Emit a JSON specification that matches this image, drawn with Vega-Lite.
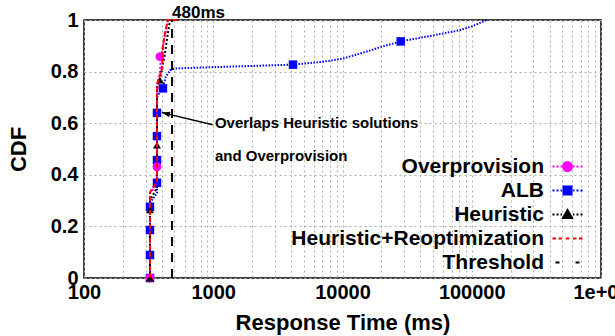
{
  "$schema": "https://vega.github.io/schema/vega-lite/v6.json",
  "width": 517,
  "height": 258,
  "autosize": {"type": "none"},
  "padding": {"left": 84, "top": 20, "right": 14, "bottom": 58},
  "background": "white",
  "config": {
    "view": {"stroke": "black", "strokeWidth": 1.5},
    "font": "Liberation Sans"
  },
  "datasets": {
    "lines": [
      {"series": "Overprovision", "x": 324, "y": 0},
      {"series": "Overprovision", "x": 324, "y": 0.33},
      {"series": "Overprovision", "x": 367, "y": 0.36},
      {"series": "Overprovision", "x": 367, "y": 0.72},
      {"series": "Overprovision", "x": 387, "y": 0.8},
      {"series": "Overprovision", "x": 395, "y": 0.86},
      {"series": "Overprovision", "x": 420, "y": 0.93},
      {"series": "Overprovision", "x": 446, "y": 1.0},
      {"series": "ALB", "x": 324, "y": 0},
      {"series": "ALB", "x": 324, "y": 0.29},
      {"series": "ALB", "x": 367, "y": 0.33},
      {"series": "ALB", "x": 367, "y": 0.7},
      {"series": "ALB", "x": 408, "y": 0.74},
      {"series": "ALB", "x": 430, "y": 0.78},
      {"series": "ALB", "x": 463, "y": 0.805},
      {"series": "ALB", "x": 500, "y": 0.812},
      {"series": "ALB", "x": 1000, "y": 0.817},
      {"series": "ALB", "x": 2000, "y": 0.822},
      {"series": "ALB", "x": 4140, "y": 0.827},
      {"series": "ALB", "x": 7000, "y": 0.838},
      {"series": "ALB", "x": 10000, "y": 0.85},
      {"series": "ALB", "x": 15000, "y": 0.876},
      {"series": "ALB", "x": 20000, "y": 0.896},
      {"series": "ALB", "x": 28200, "y": 0.917},
      {"series": "ALB", "x": 50000, "y": 0.94},
      {"series": "ALB", "x": 80000, "y": 0.96},
      {"series": "ALB", "x": 100000, "y": 0.975},
      {"series": "ALB", "x": 130500, "y": 1.0},
      {"series": "Heuristic", "x": 324, "y": 0},
      {"series": "Heuristic", "x": 324, "y": 0.3},
      {"series": "Heuristic", "x": 367, "y": 0.35},
      {"series": "Heuristic", "x": 367, "y": 0.74},
      {"series": "Heuristic", "x": 390, "y": 0.78},
      {"series": "Heuristic", "x": 420, "y": 0.86},
      {"series": "Heuristic", "x": 446, "y": 0.95},
      {"series": "Heuristic", "x": 463, "y": 1.0},
      {"series": "Heuristic+Reoptimization", "x": 324, "y": 0},
      {"series": "Heuristic+Reoptimization", "x": 324, "y": 0.33},
      {"series": "Heuristic+Reoptimization", "x": 340, "y": 0.35},
      {"series": "Heuristic+Reoptimization", "x": 367, "y": 0.37},
      {"series": "Heuristic+Reoptimization", "x": 367, "y": 0.72},
      {"series": "Heuristic+Reoptimization", "x": 372, "y": 0.76},
      {"series": "Heuristic+Reoptimization", "x": 401, "y": 0.81},
      {"series": "Heuristic+Reoptimization", "x": 408, "y": 0.9},
      {"series": "Heuristic+Reoptimization", "x": 423, "y": 0.95},
      {"series": "Heuristic+Reoptimization", "x": 446, "y": 1.0},
      {"series": "Heuristic+Reoptimization", "x": 524, "y": 1.0}
    ],
    "markers": [
      {"series": "ALB", "x": 324, "y": 0},
      {"series": "ALB", "x": 324, "y": 0.089},
      {"series": "ALB", "x": 324, "y": 0.186},
      {"series": "ALB", "x": 324, "y": 0.276},
      {"series": "ALB", "x": 367, "y": 0.369},
      {"series": "ALB", "x": 367, "y": 0.457},
      {"series": "ALB", "x": 367, "y": 0.55},
      {"series": "ALB", "x": 367, "y": 0.64},
      {"series": "ALB", "x": 408, "y": 0.735},
      {"series": "ALB", "x": 4140, "y": 0.827},
      {"series": "ALB", "x": 28200, "y": 0.917},
      {"series": "Overprovision", "x": 324, "y": 0},
      {"series": "Overprovision", "x": 367, "y": 0.431},
      {"series": "Overprovision", "x": 387, "y": 0.858},
      {"series": "Heuristic", "x": 324, "y": 0},
      {"series": "Heuristic", "x": 324, "y": 0.264},
      {"series": "Heuristic", "x": 367, "y": 0.515},
      {"series": "Heuristic", "x": 387, "y": 0.767}
    ],
    "threshold": [{"series": "Threshold", "x": 480, "y": 0, "y2": 1}],
    "label480": [{"x": 480, "y": 1, "label": "480ms"}],
    "notes": [
      {"x": 1030, "y": 0.602, "label": "Overlaps Heuristic solutions"},
      {"x": 1030, "y": 0.474, "label": "and Overprovision"}
    ],
    "arrow": [{"x": 401, "y": 0.641, "x2": 990, "y2": 0.594}]
  },
  "encoding": {
    "x": {
      "field": "x",
      "type": "quantitative",
      "scale": {"type": "log", "domain": [100, 1000000], "nice": false},
      "axis": {
        "title": "Response Time (ms)",
        "values": [100, 200, 300, 400, 500, 600, 700, 800, 900, 1000, 2000, 3000, 4000, 5000, 6000, 7000, 8000, 9000, 10000, 20000, 30000, 40000, 50000, 60000, 70000, 80000, 90000, 100000, 200000, 300000, 400000, 500000, 600000, 700000, 800000, 900000, 1000000],
        "labelExpr": "datum.value == 1000000 ? '1e+06' : ((datum.value == 100 || datum.value == 1000 || datum.value == 10000 || datum.value == 100000) ? format(datum.value, 'd') : '')",
        "labelFlush": false,
        "labelOverlap": false,
        "labelFont": "Liberation Sans",
        "labelFontSize": 20,
        "labelFontWeight": "bold",
        "labelColor": "black",
        "labelPadding": 4,
        "ticks": false,
        "domain": false,
        "grid": true,
        "gridColor": "#b0b0b0",
        "gridDash": [2, 3],
        "gridWidth": 1,
        "titleFont": "Liberation Sans",
        "titleFontSize": 22,
        "titleFontWeight": "bold",
        "titleColor": "black",
        "titlePadding": 10
      }
    },
    "y": {
      "field": "y",
      "type": "quantitative",
      "scale": {"domain": [0, 1], "nice": false},
      "axis": {
        "title": "CDF",
        "values": [0, 0.2, 0.4, 0.6, 0.8, 1],
        "format": "~g",
        "labelFont": "Liberation Sans",
        "labelFontSize": 20,
        "labelFontWeight": "bold",
        "labelColor": "black",
        "labelPadding": 6,
        "ticks": false,
        "domain": false,
        "grid": true,
        "gridColor": "#b0b0b0",
        "gridDash": [2, 3],
        "gridWidth": 1,
        "titleFont": "Liberation Sans",
        "titleFontSize": 22,
        "titleFontWeight": "bold",
        "titleColor": "black",
        "titlePadding": 20
      }
    }
  },
  "layer": [
    {
      "data": {"name": "lines"},
      "transform": [{"filter": "datum.series != 'Heuristic+Reoptimization'"}],
      "mark": {"type": "line", "strokeWidth": 2},
      "encoding": {
        "order": [{"field": "y", "type": "quantitative"}, {"field": "x", "type": "quantitative"}],
        "color": {
          "field": "series",
          "type": "nominal",
          "scale": {
            "domain": ["Overprovision", "ALB", "Heuristic", "Heuristic+Reoptimization", "Threshold"],
            "range": ["#ff00ff", "#0000ff", "#000000", "#ff0000", "#000000"]
          },
          "legend": {
            "title": null,
            "orient": "none",
            "legendX": 473,
            "legendY": 136,
            "padding": 0,
            "symbolSize": 100,
            "symbolStrokeWidth": 2,
            "labelFont": "Liberation Sans",
            "labelFontSize": 21,
            "labelFontWeight": "bold",
            "labelColor": "black",
            "labelAlign": "right",
            "labelBaseline": "middle",
            "labelOffset": -34,
            "labelLimit": 400,
            "rowPadding": 2,
            "encode": {
              "symbols": {
                "update": {
                  "shape": {"signal": "datum.value === 'Overprovision' ? 'M-3,0H-2.6M-2.2,0H-1.8M-1.4,0H-1.1M0.9,0A0.9,0.9,0,1,1,-0.9,0A0.9,0.9,0,1,1,0.9,0ZM1.1,0H1.4M1.8,0H2.2M2.6,0H3' : datum.value === 'ALB' ? 'M-3,0H-2.6M-2.2,0H-1.8M-1.4,0H-1.1M-0.8,-0.8H0.8V0.8H-0.8ZM1.1,0H1.4M1.8,0H2.2M2.6,0H3' : datum.value === 'Heuristic' ? 'M-3,0H-2.6M-2.2,0H-1.8M-1.4,0H-1.1M0,-0.9L0.9,0.7H-0.9ZM1.1,0H1.4M1.8,0H2.2M2.6,0H3' : datum.value === 'Heuristic+Reoptimization' ? 'M-3,0H-2.3M-1.8,0H-1.1M-0.35,0H0.35M1.1,0H1.8M2.3,0H3' : 'M-2.4,0H-1.6M1.6,0H2.4'"},
                  "fill": {"scale": "color", "field": "value"},
                  "stroke": {"scale": "color", "field": "value"},
                  "strokeWidth": {"value": 2},
                  "opacity": {"value": 1}
                }
              }
            }
          }
        },
        "strokeDash": {
          "field": "series",
          "type": "nominal",
          "scale": {
            "domain": ["Overprovision", "ALB", "Heuristic"],
            "range": [[2, 2], [1.5, 1.5], [2, 2]]
          },
          "legend": null
        }
      }
    },
    {
      "data": {"name": "markers"},
      "mark": {"type": "point", "filled": true, "opacity": 1, "strokeWidth": 1},
      "encoding": {
        "color": {"field": "series", "type": "nominal", "legend": null},
        "shape": {
          "field": "series",
          "type": "nominal",
          "scale": {"domain": ["Overprovision", "ALB", "Heuristic"], "range": ["circle", "square", "triangle-up"]},
          "legend": null
        },
        "size": {
          "field": "series",
          "type": "nominal",
          "scale": {"domain": ["Overprovision", "ALB", "Heuristic"], "range": [80, 64, 60]},
          "legend": null
        }
      }
    },
    {
      "data": {"name": "lines"},
      "transform": [{"filter": "datum.series == 'Heuristic+Reoptimization'"}],
      "mark": {"type": "line", "strokeWidth": 2, "strokeDash": [5, 2]},
      "encoding": {
        "order": [{"field": "y", "type": "quantitative"}, {"field": "x", "type": "quantitative"}],
        "color": {"field": "series", "type": "nominal", "legend": null}
      }
    },
    {
      "data": {"name": "threshold"},
      "mark": {"type": "rule", "strokeWidth": 2, "strokeDash": [9, 7]},
      "encoding": {
        "y2": {"field": "y2"},
        "color": {"field": "series", "type": "nominal", "legend": null}
      }
    },
    {
      "data": {"name": "label480"},
      "mark": {"type": "text", "align": "left", "baseline": "alphabetic", "dy": -2.5, "fontSize": 17, "fontWeight": "bold", "font": "Liberation Sans", "color": "black"},
      "encoding": {"text": {"field": "label"}}
    },
    {
      "data": {"name": "notes"},
      "mark": {"type": "text", "align": "left", "baseline": "middle", "fontSize": 15, "fontWeight": "bold", "font": "Liberation Sans", "color": "black"},
      "encoding": {"text": {"field": "label"}}
    },
    {
      "data": {"name": "arrow"},
      "mark": {"type": "rule", "strokeWidth": 1.5, "color": "black"},
      "encoding": {"x2": {"field": "x2"}, "y2": {"field": "y2"}}
    },
    {
      "data": {"name": "arrow"},
      "mark": {"type": "point", "shape": "M0,0L2,-0.7L2,0.7Z", "filled": true, "color": "black", "opacity": 1, "size": 64, "angle": 13}
    }
  ]
}
